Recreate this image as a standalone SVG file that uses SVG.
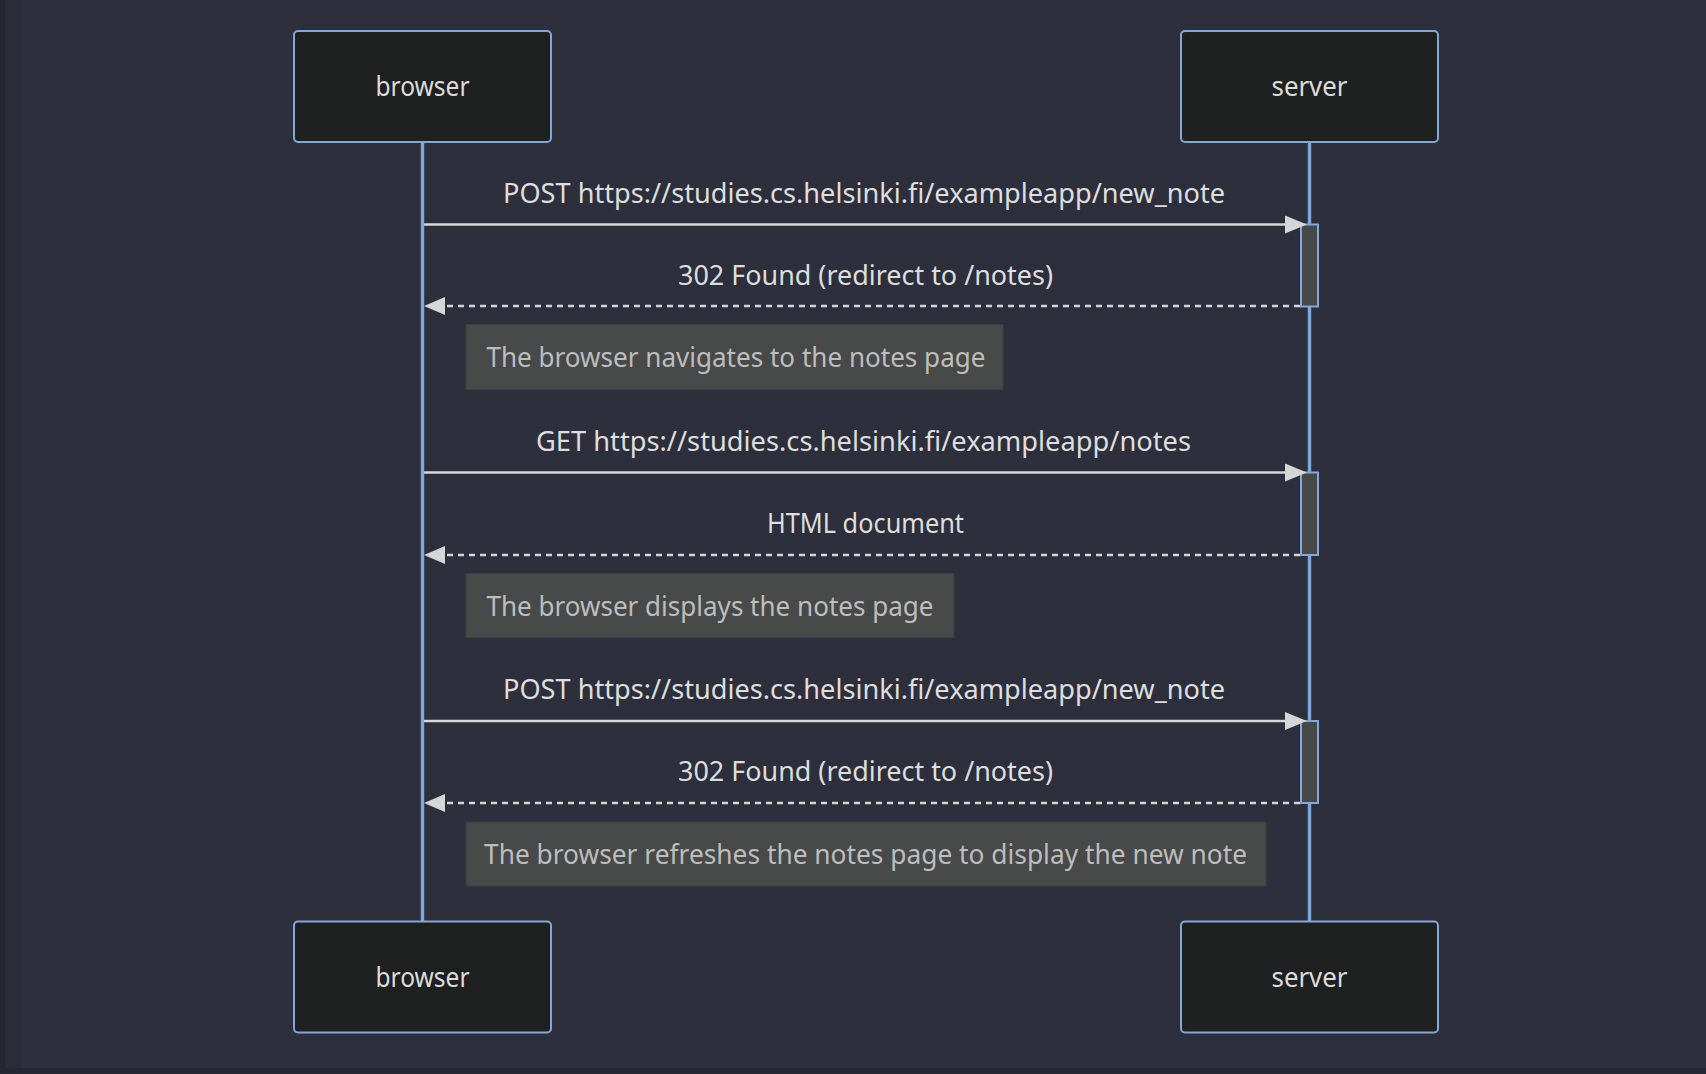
<svg xmlns="http://www.w3.org/2000/svg" width="1706" height="1074" viewBox="0 0 1706 1074">
<defs>
<style>
.bg{fill:#2d303c}
.actor rect{fill:#1f2020;stroke:#81a8d8;stroke-width:2}
.actor text{fill:#dcdcdc;font-family:"Noto Sans","Open Sans",sans-serif;font-size:27px;text-anchor:middle}
.life{stroke:#81a8d8;stroke-width:3.4}
.msg{stroke:#d6d6d6;stroke-width:2.5;fill:none}
.dash{stroke-dasharray:6 5}
.head{fill:#d6d6d6}
.mtext{fill:#dedede;font-family:"Noto Sans","Open Sans",sans-serif;font-size:27px;text-anchor:middle}
.act{fill:#474949;stroke:#81a8d8;stroke-width:2}
.note rect{fill:#484949;stroke:#3e3f3f;stroke-width:1}
.note text{fill:#bdbdbd;font-family:"Noto Sans","Open Sans",sans-serif;font-size:27px;text-anchor:middle}
</style>
</defs>
<rect class="bg" x="0" y="0" width="1706" height="1074"/>
<rect x="0" y="0" width="22" height="1074" fill="#2a2d38"/>
<rect x="0" y="0" width="5" height="1074" fill="#242732"/>
<rect x="0" y="1068" width="1706" height="6" fill="#252832"/>

<g id="lifelines">
<line class="life" x1="422.5" y1="142" x2="422.5" y2="921"/>
<line class="life" x1="1309.5" y1="142" x2="1309.5" y2="921"/>
</g>

<g id="actor-browser-top" class="actor">
<rect x="294" y="31" width="257" height="111" rx="4"/>
<text x="422.5" y="96" textLength="94" lengthAdjust="spacingAndGlyphs">browser</text>
</g>
<g id="actor-server-top" class="actor">
<rect x="1181" y="31" width="257" height="111" rx="4"/>
<text x="1309.5" y="96" textLength="76" lengthAdjust="spacingAndGlyphs">server</text>
</g>
<g id="actor-browser-bottom" class="actor">
<rect x="294" y="921.5" width="257" height="111" rx="4"/>
<text x="422.5" y="986.5" textLength="94" lengthAdjust="spacingAndGlyphs">browser</text>
</g>
<g id="actor-server-bottom" class="actor">
<rect x="1181" y="921.5" width="257" height="111" rx="4"/>
<text x="1309.5" y="986.5" textLength="76" lengthAdjust="spacingAndGlyphs">server</text>
</g>

<g id="activations">
<rect class="act" x="1301" y="224.5" width="17" height="82"/>
<rect class="act" x="1301" y="472.5" width="17" height="82.5"/>
<rect class="act" x="1301" y="721" width="17" height="82"/>
</g>

<g id="connectors">
<line class="msg" x1="424" y1="224.5" x2="1290" y2="224.5"/>
<polygon class="head" points="1285,215.5 1307,224.5 1285,233.5"/>
<line class="msg dash" x1="1300" y1="306" x2="440" y2="306"/>
<polygon class="head" points="445,297 424,306 445,315"/>

<line class="msg" x1="424" y1="472.5" x2="1290" y2="472.5"/>
<polygon class="head" points="1285,463.5 1307,472.5 1285,481.5"/>
<line class="msg dash" x1="1300" y1="555" x2="440" y2="555"/>
<polygon class="head" points="445,546 424,555 445,564"/>

<line class="msg" x1="424" y1="721" x2="1290" y2="721"/>
<polygon class="head" points="1285,712 1307,721 1285,730"/>
<line class="msg dash" x1="1300" y1="803" x2="440" y2="803"/>
<polygon class="head" points="445,794 424,803 445,812"/>
</g>

<g id="message-labels">
<text class="mtext" x="864" y="203" textLength="722" lengthAdjust="spacingAndGlyphs">POST https://studies.cs.helsinki.fi/exampleapp/new_note</text>
<text class="mtext" x="865.5" y="285" textLength="375" lengthAdjust="spacingAndGlyphs">302 Found (redirect to /notes)</text>
<text class="mtext" x="863.5" y="451" textLength="655" lengthAdjust="spacingAndGlyphs">GET https://studies.cs.helsinki.fi/exampleapp/notes</text>
<text class="mtext" x="865.5" y="533" textLength="197" lengthAdjust="spacingAndGlyphs">HTML document</text>
<text class="mtext" x="864" y="699" textLength="722" lengthAdjust="spacingAndGlyphs">POST https://studies.cs.helsinki.fi/exampleapp/new_note</text>
<text class="mtext" x="865.5" y="781" textLength="375" lengthAdjust="spacingAndGlyphs">302 Found (redirect to /notes)</text>
</g>

<g id="note-1" class="note">
<rect x="466" y="324.5" width="537" height="65"/>
<text x="736" y="367" textLength="499" lengthAdjust="spacingAndGlyphs">The browser navigates to the notes page</text>
</g>
<g id="note-2" class="note">
<rect x="466" y="573.5" width="488" height="64"/>
<text x="710" y="615.5" textLength="447" lengthAdjust="spacingAndGlyphs">The browser displays the notes page</text>
</g>
<g id="note-3" class="note">
<rect x="466" y="822" width="800" height="64"/>
<text x="865.5" y="864" textLength="763" lengthAdjust="spacingAndGlyphs">The browser refreshes the notes page to display the new note</text>
</g>
</svg>
